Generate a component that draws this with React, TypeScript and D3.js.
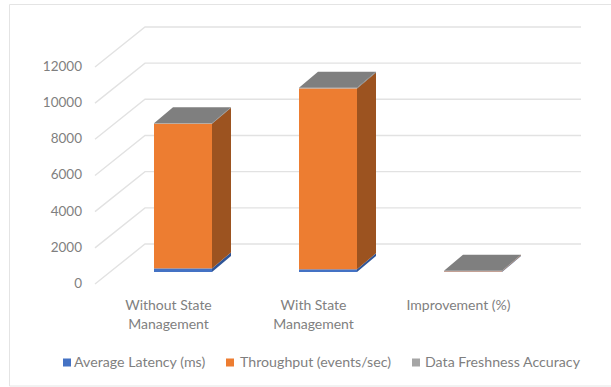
import React from "react";
import * as d3 from "d3";

const categories = ["Without State Management", "With State Management", "Improvement (%)"];
const categoryLines = [["Without State", "Management"], ["With State", "Management"], ["Improvement (%)"]];
const seriesNames = ["Average Latency (ms)", "Throughput (events/sec)", "Data Freshness Accuracy"];
const averageLatency = [200, 150, 25];
const throughput = [8000, 10000, 25];
const dataFreshness = [30, 40, 13];
const yTicks = [0, 2000, 4000, 6000, 8000, 10000, 12000];

const frontColors = ["#4472c4", "#ed7d31", "#a5a5a5"];
const sideColors = ["#2f5597", "#9c5320", "#6e6e6e"];
const topColor = "#7f7f7f";
const textColor = "#7f7f7f";
const gridColor = "#e2e2e2";
const font = "Lato, 'Open Sans', sans-serif";

const rows = categories.map((c, i) => ({
  category: c,
  [seriesNames[0]]: averageLatency[i],
  [seriesNames[1]]: throughput[i],
  [seriesNames[2]]: dataFreshness[i],
}));
const stacked = d3.stack<any>().keys(seriesNames)(rows);

// One value scale, shifted for each plane of the 3D box.
const unit = 36.17 / 2000;
const y = d3.scaleLinear().domain([0, 12000]).range([272, 272 - 12000 * unit]);
const wallShift = -28;
const labelShift = 11;
const x = d3.scaleBand<string>().domain(categories).range([96, 531]);
const barOffset = 58;
const barWidth = 58;
const depthX = 19;
const depthY = -16;

const poly = d3.line<[number, number]>();

const legendItems = [
  { swatch: 63, text: 74 },
  { swatch: 226, text: 240 },
  { swatch: 412, text: 425 },
];

export default function App() {
  return (
    <svg
      width={611}
      height={387}
      viewBox="0 0 611 387"
      style={{ position: "absolute", left: 0, top: 0, background: "#fff" }}
    >
      <path d="M611 4.5H9.5V386H611" fill="none" stroke="#e4e4e4" strokeWidth={1} />

      {yTicks.map((t) => {
        const wy = y(t) + wallShift;
        const fy = y(t) + labelShift;
        return (
          <g key={t}>
            <path
              d={poly([[95, fy + 1], [145, wy], [581, wy]]) ?? ""}
              fill="none"
              stroke={gridColor}
              strokeWidth={1.4}
            />
            <text x={82} y={fy + 5} textAnchor="end" fontFamily={font} fontSize={13.5} fill={textColor}>
              {t}
            </text>
          </g>
        );
      })}

      {categories.map((c, i) => {
        const left = (x(c) as number) + barOffset;
        const right = left + barWidth;
        const topY = y(stacked[2][i][1]);
        return (
          <g key={c}>
            {stacked.map((s, k) => {
              const y0 = y(s[i][0]);
              const y1 = y(s[i][1]);
              return (
                <g key={s.key}>
                  <path
                    d={(poly([[right, y0], [right + depthX, y0 + depthY], [right + depthX, y1 + depthY], [right, y1]]) ?? "") + "Z"}
                    fill={sideColors[k]}
                  />
                  <rect x={left} y={y1} width={barWidth} height={y0 - y1} fill={frontColors[k]} />
                </g>
              );
            })}
            <path
              d={(poly([
                [left, topY],
                [left + depthX, topY + depthY],
                [right + depthX, topY + depthY],
                [right, topY],
              ]) ?? "") + "Z"}
              fill={topColor}
            />
            <text textAnchor="middle" fontFamily={font} fontSize={14} fill={textColor}>
              {categoryLines[i].map((line, j) => (
                <tspan key={line} x={(x(c) as number) + (x.bandwidth() / 2)} y={310 + j * 19}>
                  {line}
                </tspan>
              ))}
            </text>
          </g>
        );
      })}

      {seriesNames.map((name, k) => (
        <g key={name}>
          <rect x={legendItems[k].swatch} y={358.5} width={8} height={8} fill={frontColors[k]} />
          <text x={legendItems[k].text} y={367} fontFamily={font} fontSize={14.2} fill={textColor}>
            {name}
          </text>
        </g>
      ))}
    </svg>
  );
}
